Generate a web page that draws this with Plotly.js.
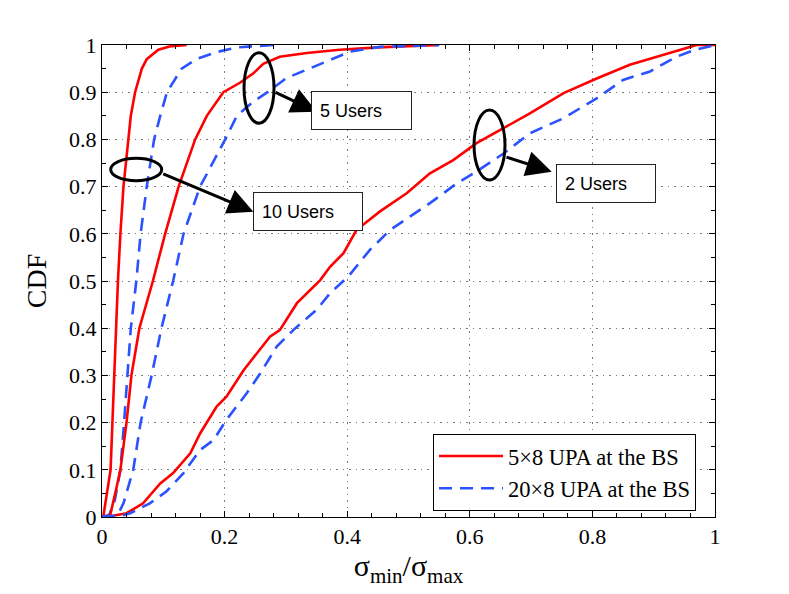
<!DOCTYPE html>
<html>
<head>
<meta charset="utf-8">
<script src="https://cdn.plot.ly/plotly-3.0.1.min.js"></script>
<style>html,body{margin:0;padding:0;background:#fff;}#chart{width:789px;height:594px;}</style>
</head>
<body>
<div id="chart"></div>
<script>
// ---- Data ----
const seriesNames = ['5\u00d78 UPA at the BS', '20\u00d78 UPA at the BS'];
const userLabels = ['10 Users', '5 Users', '2 Users'];

// 10 users
const u10RedX  = [0, 0.002, 0.008, 0.014, 0.017, 0.020, 0.022, 0.026, 0.030, 0.035, 0.043, 0.047, 0.054, 0.065, 0.073, 0.092, 0.110, 0.138];
const u10RedY  = [0, 0.000, 0.05, 0.10, 0.20, 0.30, 0.40, 0.50, 0.60, 0.70, 0.80, 0.85, 0.90, 0.95, 0.97, 0.99, 0.997, 1];
const u10BlueX = [0, 0.012, 0.021, 0.030, 0.036, 0.042, 0.047, 0.056, 0.063, 0.073, 0.085, 0.095, 0.106, 0.130, 0.154, 0.187, 0.220, 0.280];
const u10BlueY = [0, 0.005, 0.036, 0.10, 0.20, 0.30, 0.40, 0.50, 0.60, 0.70, 0.80, 0.85, 0.90, 0.95, 0.97, 0.985, 0.995, 1];

// 5 users
const u5RedX  = [0, 0.013, 0.024, 0.030, 0.040, 0.048, 0.061, 0.083, 0.103, 0.125, 0.152, 0.171, 0.198, 0.225, 0.247, 0.263, 0.290, 0.334, 0.388, 0.450, 0.550];
const u5RedY  = [0, 0.002, 0.064, 0.10, 0.20, 0.30, 0.40, 0.50, 0.60, 0.70, 0.80, 0.85, 0.90, 0.92, 0.94, 0.96, 0.975, 0.983, 0.99, 0.995, 1];
const u5BlueX = [0, 0.025, 0.035, 0.051, 0.063, 0.081, 0.097, 0.116, 0.133, 0.160, 0.201, 0.220, 0.247, 0.270, 0.301, 0.339, 0.372, 0.405, 0.453, 0.550];
const u5BlueY = [0, 0.003, 0.029, 0.10, 0.20, 0.30, 0.40, 0.50, 0.60, 0.70, 0.80, 0.85, 0.88, 0.90, 0.93, 0.95, 0.968, 0.986, 0.996, 1];

// 2 users
const u2RedX  = [0, 0.020, 0.040, 0.067, 0.095, 0.116, 0.144, 0.160, 0.187, 0.203, 0.231, 0.258, 0.274, 0.290, 0.318, 0.356, 0.372, 0.394, 0.415, 0.453, 0.497, 0.535, 0.573, 0.611, 0.660, 0.698, 0.753, 0.807, 0.861, 0.916, 0.970, 1];
const u2RedY  = [0, 0.003, 0.008, 0.029, 0.071, 0.093, 0.135, 0.177, 0.234, 0.255, 0.311, 0.354, 0.382, 0.396, 0.453, 0.502, 0.530, 0.559, 0.608, 0.647, 0.686, 0.728, 0.756, 0.792, 0.827, 0.855, 0.898, 0.929, 0.958, 0.979, 1.0, 1];
const u2BlueX = [0, 0.030, 0.046, 0.078, 0.105, 0.133, 0.160, 0.182, 0.203, 0.236, 0.258, 0.285, 0.312, 0.350, 0.372, 0.402, 0.437, 0.470, 0.535, 0.579, 0.611, 0.655, 0.698, 0.753, 0.807, 0.850, 0.894, 0.937, 0.965, 0.997, 1];
const u2BlueY = [0, 0.002, 0.008, 0.029, 0.054, 0.093, 0.142, 0.163, 0.206, 0.262, 0.304, 0.361, 0.396, 0.439, 0.474, 0.510, 0.566, 0.608, 0.665, 0.707, 0.732, 0.770, 0.813, 0.845, 0.887, 0.926, 0.944, 0.975, 0.989, 1, 1];

const xTicks = [0, 0.2, 0.4, 0.6, 0.8, 1];
const yTicks = [0, 0.1, 0.2, 0.3, 0.4, 0.5, 0.6, 0.7, 0.8, 0.9, 1];

// ---- Styles ----
const RED = '#ff0000';
const BLUE = '#2a52ff';
const serif = 'Liberation Serif, Times New Roman, serif';
const sans = 'Liberation Sans, Arial, sans-serif';

function redTrace(x, y, show) {
  return {x: x, y: y, type: 'scatter', mode: 'lines', name: seriesNames[0],
          showlegend: show, line: {color: RED, width: 2.6}, hoverinfo: 'skip'};
}
function blueTrace(x, y, show) {
  return {x: x, y: y, type: 'scatter', mode: 'lines', name: seriesNames[1],
          showlegend: show, line: {color: BLUE, width: 2.6, dash: '13px,8px'}, hoverinfo: 'skip'};
}

const data = [
  redTrace(u10RedX, u10RedY, true),
  blueTrace(u10BlueX, u10BlueY, true),
  redTrace(u5RedX, u5RedY, false),
  redTrace(u2RedX, u2RedY, false),
  blueTrace(u5BlueX, u5BlueY, false),
  blueTrace(u2BlueX, u2BlueY, false)
];

function ellipse(x0, x1, y0, y1) {
  return {type: 'circle', xref: 'x', yref: 'y', x0: x0, x1: x1, y0: y0, y1: y1,
          line: {color: 'black', width: 3}, fillcolor: 'rgba(0,0,0,0)'};
}
function arrow(x, y, ax, ay) {
  return {x: x, y: y, ax: ax, ay: ay, xref: 'x', yref: 'y', axref: 'x', ayref: 'y',
          text: '', showarrow: true, arrowhead: 2, arrowsize: 1.7, arrowwidth: 3,
          arrowcolor: 'black', standoff: 0, startstandoff: 0};
}
function label(text, x, y, w) {
  return {x: x, y: y, xref: 'x', yref: 'y', text: text, showarrow: false,
          font: {family: sans, size: 18, color: 'black'},
          bgcolor: 'white', bordercolor: '#222', borderwidth: 1, borderpad: 8,
          width: w, height: 21, align: 'left', valign: 'middle',
          xanchor: 'center', yanchor: 'middle'};
}

const layout = {
  width: 789, height: 594,
  margin: {l: 102, r: 74, t: 45, b: 77},
  paper_bgcolor: 'white', plot_bgcolor: 'white',
  showlegend: true,
  xaxis: {
    range: [0, 1], tickvals: xTicks, ticktext: xTicks.map(String),
    ticks: 'inside', ticklen: 6, tickcolor: 'black', tickwidth: 1,
    showline: true, linecolor: 'black', linewidth: 1, mirror: 'ticks',
    showgrid: true, gridcolor: '#7a7a7a', griddash: '1.5px,5px', gridwidth: 1,
    zeroline: false, fixedrange: true,
    minor: {dtick: 0.04, ticks: 'inside', ticklen: 4, tickcolor: 'black', showgrid: false},
    tickfont: {family: serif, size: 22, color: 'black'},
    title: {text: '\u03c3<sub>min</sub>/\u03c3<sub>max</sub>', font: {family: serif, size: 30, color: 'black'}, standoff: 4}
  },
  yaxis: {
    range: [0, 1], tickvals: yTicks, ticktext: yTicks.map(String),
    ticks: 'inside', ticklen: 6, tickcolor: 'black', tickwidth: 1,
    showline: true, linecolor: 'black', linewidth: 1, mirror: 'ticks',
    showgrid: true, gridcolor: '#7a7a7a', griddash: '1.5px,5px', gridwidth: 1,
    zeroline: false, fixedrange: true,
    minor: {dtick: 0.05, ticks: 'inside', ticklen: 4, tickcolor: 'black', showgrid: false},
    tickfont: {family: serif, size: 22, color: 'black'},
    title: {text: 'CDF', font: {family: serif, size: 28, color: 'black'}, standoff: 14}
  },
  legend: {
    x: 0.54, y: 0.176, xanchor: 'left', yanchor: 'top', xref: 'paper', yref: 'paper',
    bgcolor: 'white', bordercolor: 'black', borderwidth: 1,
    font: {family: serif, size: 22.5, color: 'black'},
    itemwidth: 64, traceorder: 'normal'
  },
  shapes: [
    ellipse(0.0142, 0.0974, 0.7125, 0.7600),
    ellipse(0.2317, 0.2806, 0.8341, 0.9837),
    ellipse(0.6069, 0.6574, 0.7140, 0.8623)
  ],
  annotations: [
    arrow(0.2469, 0.6468, 0.0974, 0.7282),
    arrow(0.3502, 0.8587, 0.2806, 0.9011),
    arrow(0.7336, 0.7316, 0.6574, 0.7634),
    label(userLabels[0], 0.3356, 0.6477, 92),
    label(userLabels[1], 0.4233, 0.8616, 83),
    label(userLabels[2], 0.8219, 0.7062, 82)
  ]
};

Plotly.newPlot('chart', data, layout, {displayModeBar: false, staticPlot: true});
</script>
</body>
</html>
